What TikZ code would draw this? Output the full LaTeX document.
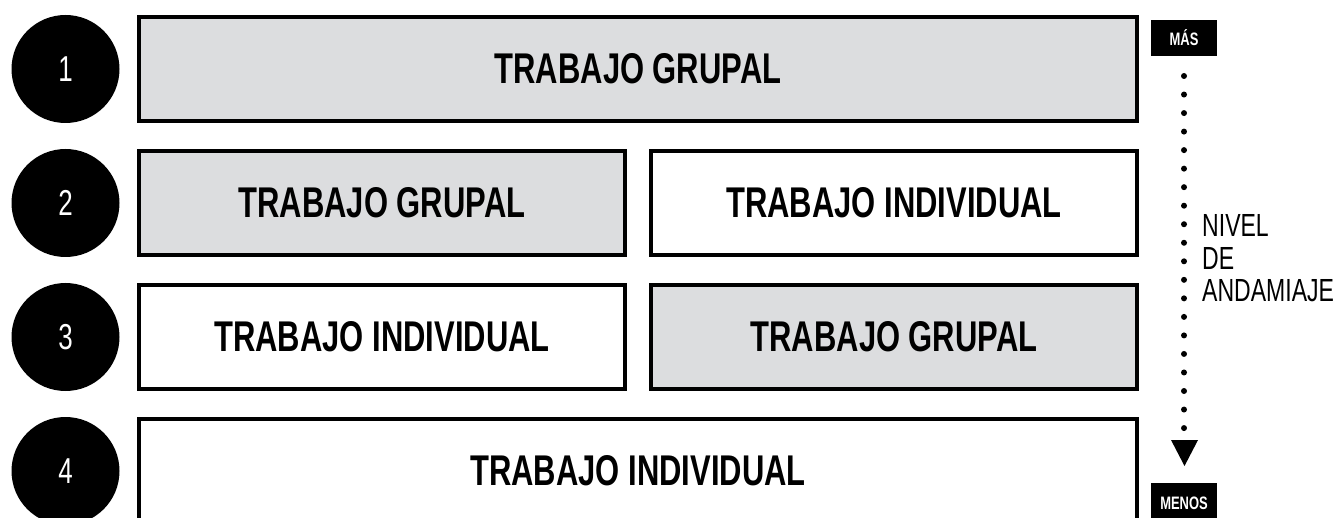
\documentclass[tikz,border=0pt]{standalone}
\usepackage{fontspec}
\setmainfont{Liberation Sans}[FakeStretch=0.72]
\definecolor{boxgray}{RGB}{220,221,223}
\begin{document}
\begin{tikzpicture}[x=1pt,y=-1pt,
  stage/.style={draw=black,line width=4pt,inner sep=0pt,font=\fontsize{43}{43}\selectfont\bfseries,text=black,minimum height=104pt},
  grp/.style={stage,fill=boxgray},
  ind/.style={stage,fill=white},
  num/.style={circle,fill=black,minimum size=108pt,inner sep=0pt,text=white,font=\fontsize{36}{36}\selectfont},
  tag/.style={fill=black,text=white,inner sep=0pt,minimum width=66pt,font=\fontsize{18}{18}\selectfont\bfseries},
  dotline/.style={line width=6pt,line cap=round,dash pattern=on 0pt off 18.53pt},
  side/.style={anchor=west,inner sep=0pt,font=\fontsize{32}{32}\selectfont}]
\useasboundingbox (0,0) rectangle (1341,518);
\clip (0,0) rectangle (1341,518);
% circles
\node[num] (c1) at (65.5,69) {1};
\node[num] (c2) at (65.5,203) {2};
\node[num] (c3) at (65.5,337) {3};
\node[num] (c4) at (65.5,471) {4};
% rows
\node[grp,minimum width=998pt] (r1) at (638,69) {TRABAJO GRUPAL};
\node[grp,minimum width=486pt] (r2a) at (382,203) {TRABAJO GRUPAL};
\node[ind,minimum width=486pt] (r2b) at (894,203) {TRABAJO INDIVIDUAL};
\node[ind,minimum width=486pt] (r3a) at (382,337) {TRABAJO INDIVIDUAL};
\node[grp,minimum width=486pt] (r3b) at (894,337) {TRABAJO GRUPAL};
\node[ind,minimum width=998pt] (r4) at (638,471) {TRABAJO INDIVIDUAL};
% scale
\node[tag,minimum height=36pt] (mas) at (1184,38) {MÁS};
\node[tag,minimum height=40pt] (menos) at (1184,503) {MENOS};
\coordinate (dtop) at (1184,76);
\coordinate (dbot) at (1184,428.5);
\draw[dotline] (dtop) -- (dbot);
\fill[black] (1171,440) -- (1198,440) -- (1184.5,466) -- cycle;
\node[side] (l1) at (1202,225) {NIVEL};
\node[side] (l2) at (1202,258) {DE};
\node[side] (l3) at (1202,291) {ANDAMIAJE};
\end{tikzpicture}
\end{document}
